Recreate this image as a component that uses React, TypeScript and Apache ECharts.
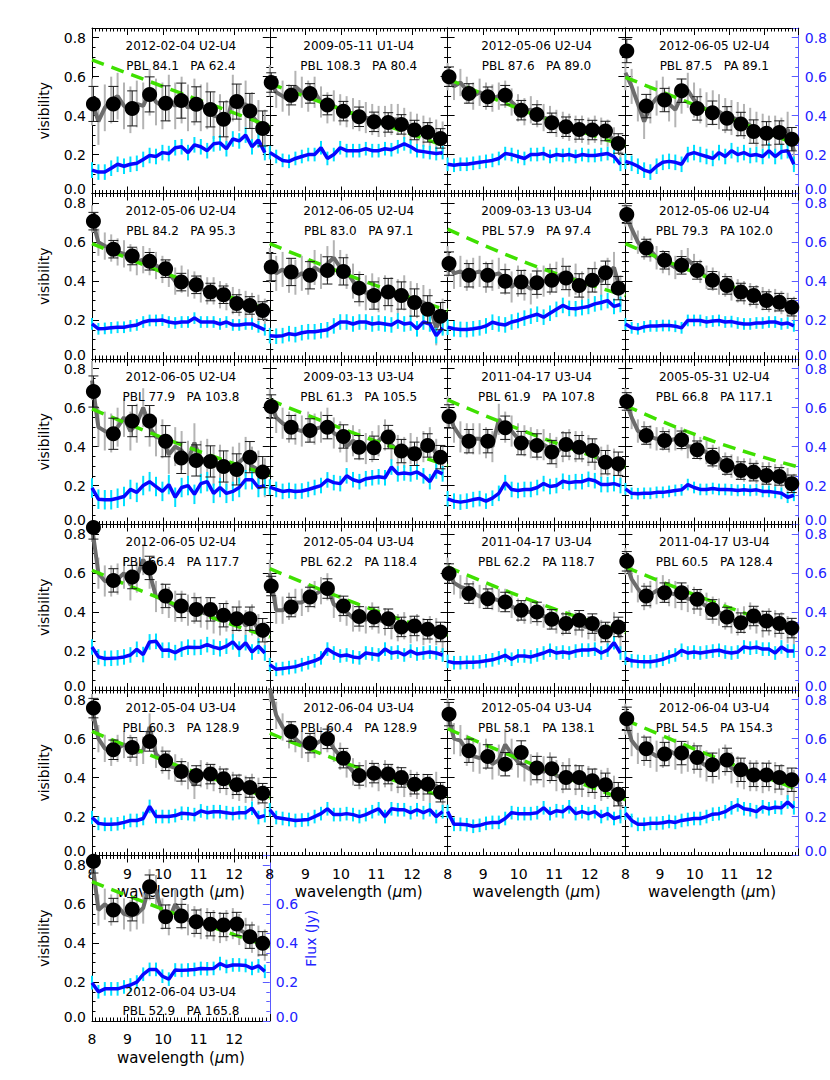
import React, { useEffect, useRef } from "react";
import * as echarts from "echarts";

// ---------------- data ----------------
const WAVE = [8.0, 8.18, 8.36, 8.54, 8.72, 8.9, 9.08, 9.26, 9.44, 9.62, 9.8, 9.98, 10.16, 10.34, 10.52, 10.7, 10.88, 11.06, 11.24, 11.42, 11.6, 11.78, 11.96, 12.14, 12.32, 12.5, 12.68, 12.86];
const BIN_WAVE = [8.04, 8.6, 9.13, 9.62, 10.07, 10.51, 10.93, 11.33, 11.7, 12.07, 12.44, 12.8];
const MODEL_WAVE = [8, 10.5, 13];

const DATES = ["2012-02-04", "2009-05-11", "2012-05-06", "2012-06-05", "2012-05-06", "2012-06-05", "2009-03-13", "2012-05-06", "2012-06-05", "2009-03-13", "2011-04-17", "2005-05-31", "2012-06-05", "2012-05-04", "2011-04-17", "2011-04-17", "2012-05-04", "2012-06-04", "2012-05-04", "2012-06-04", "2012-06-04"];
const BASELINES = ["U2-U4", "U1-U4", "U2-U4", "U2-U4", "U2-U4", "U2-U4", "U3-U4", "U2-U4", "U2-U4", "U3-U4", "U3-U4", "U2-U4", "U2-U4", "U3-U4", "U3-U4", "U3-U4", "U3-U4", "U3-U4", "U3-U4", "U3-U4", "U3-U4"];
const PBL = [84.1, 108.3, 87.6, 87.5, 84.2, 83.0, 57.9, 79.3, 77.9, 61.3, 61.9, 66.8, 66.4, 62.2, 62.2, 60.5, 60.3, 60.4, 58.1, 54.5, 52.9];
const PA = [62.4, 80.4, 89.0, 89.1, 95.3, 97.1, 97.4, 102.0, 103.8, 105.5, 107.8, 117.1, 117.7, 118.4, 118.7, 128.4, 128.9, 128.9, 138.1, 154.3, 165.8];

const VIS_SPEC = [
  [0.47, 0.37, 0.44, 0.48, 0.5, 0.45, 0.43, 0.46, 0.45, 0.52, 0.47, 0.45, 0.49, 0.45, 0.48, 0.44, 0.47, 0.44, 0.45, 0.4, 0.39, 0.36, 0.49, 0.44, 0.46, 0.4, 0.36, 0.31],
  [0.58, 0.52, 0.5, 0.48, 0.55, 0.52, 0.5, 0.52, 0.47, 0.44, 0.45, 0.43, 0.42, 0.41, 0.4, 0.39, 0.38, 0.37, 0.37, 0.38, 0.38, 0.36, 0.34, 0.33, 0.32, 0.31, 0.3, 0.29],
  [0.6, 0.55, 0.57, 0.53, 0.5, 0.52, 0.5, 0.49, 0.5, 0.51, 0.47, 0.44, 0.42, 0.43, 0.41, 0.39, 0.38, 0.36, 0.35, 0.34, 0.33, 0.33, 0.32, 0.33, 0.32, 0.31, 0.27, 0.22],
  [0.62, 0.55, 0.46, 0.37, 0.45, 0.49, 0.51, 0.46, 0.43, 0.5, 0.53, 0.48, 0.45, 0.43, 0.44, 0.42, 0.4, 0.39, 0.38, 0.37, 0.35, 0.33, 0.32, 0.31, 0.31, 0.3, 0.33, 0.22],
  [0.72, 0.6, 0.58, 0.57, 0.55, 0.54, 0.52, 0.5, 0.51, 0.5, 0.48, 0.46, 0.44, 0.4, 0.41, 0.39, 0.38, 0.36, 0.35, 0.35, 0.33, 0.32, 0.3, 0.29, 0.28, 0.27, 0.26, 0.24],
  [0.48, 0.44, 0.46, 0.43, 0.42, 0.44, 0.42, 0.47, 0.45, 0.49, 0.52, 0.47, 0.45, 0.4, 0.36, 0.34, 0.35, 0.33, 0.34, 0.33, 0.32, 0.34, 0.31, 0.3, 0.29, 0.27, 0.16, 0.22],
  [0.5, 0.44, 0.45, 0.43, 0.44, 0.45, 0.42, 0.43, 0.44, 0.41, 0.37, 0.4, 0.38, 0.36, 0.39, 0.4, 0.41, 0.42, 0.44, 0.4, 0.41, 0.37, 0.39, 0.42, 0.4, 0.44, 0.47, 0.35],
  [0.74, 0.67, 0.6, 0.57, 0.56, 0.52, 0.5, 0.49, 0.47, 0.5, 0.51, 0.48, 0.45, 0.42, 0.41, 0.39, 0.38, 0.36, 0.35, 0.34, 0.33, 0.32, 0.31, 0.3, 0.3, 0.29, 0.28, 0.26],
  [0.74, 0.5, 0.48, 0.47, 0.5, 0.55, 0.48, 0.52, 0.6, 0.5, 0.45, 0.44, 0.36, 0.4, 0.38, 0.33, 0.42, 0.33, 0.34, 0.3, 0.31, 0.28, 0.3, 0.32, 0.35, 0.3, 0.28, 0.24],
  [0.62, 0.55, 0.52, 0.5, 0.49, 0.48, 0.5, 0.49, 0.5, 0.52, 0.47, 0.45, 0.4, 0.43, 0.41, 0.39, 0.4, 0.43, 0.46, 0.41, 0.38, 0.37, 0.39, 0.37, 0.4, 0.42, 0.36, 0.32],
  [0.58, 0.5, 0.45, 0.44, 0.44, 0.44, 0.42, 0.4, 0.54, 0.5, 0.48, 0.44, 0.43, 0.42, 0.41, 0.41, 0.39, 0.37, 0.4, 0.41, 0.4, 0.4, 0.38, 0.36, 0.32, 0.33, 0.31, 0.27],
  [0.64, 0.55, 0.48, 0.47, 0.45, 0.44, 0.44, 0.43, 0.44, 0.44, 0.4, 0.4, 0.39, 0.37, 0.35, 0.34, 0.31, 0.3, 0.29, 0.28, 0.28, 0.27, 0.26, 0.26, 0.25, 0.25, 0.23, 0.2],
  [0.84, 0.6, 0.56, 0.56, 0.57, 0.6, 0.54, 0.58, 0.67, 0.6, 0.48, 0.47, 0.45, 0.43, 0.43, 0.41, 0.42, 0.4, 0.39, 0.37, 0.36, 0.38, 0.35, 0.38, 0.33, 0.36, 0.31, 0.27],
  [0.6, 0.41, 0.41, 0.43, 0.45, 0.45, 0.47, 0.49, 0.51, 0.53, 0.44, 0.42, 0.4, 0.37, 0.37, 0.36, 0.38, 0.36, 0.35, 0.33, 0.32, 0.33, 0.31, 0.32, 0.3, 0.31, 0.3, 0.26],
  [0.62, 0.55, 0.53, 0.52, 0.5, 0.48, 0.48, 0.47, 0.46, 0.46, 0.43, 0.41, 0.4, 0.4, 0.39, 0.38, 0.37, 0.35, 0.34, 0.35, 0.34, 0.33, 0.32, 0.31, 0.3, 0.29, 0.34, 0.27],
  [0.66, 0.57, 0.52, 0.48, 0.49, 0.51, 0.52, 0.5, 0.49, 0.48, 0.47, 0.46, 0.45, 0.43, 0.41, 0.4, 0.38, 0.36, 0.35, 0.36, 0.38, 0.36, 0.34, 0.35, 0.34, 0.33, 0.31, 0.28],
  [0.76, 0.6, 0.55, 0.53, 0.55, 0.57, 0.55, 0.53, 0.54, 0.66, 0.52, 0.49, 0.46, 0.45, 0.43, 0.41, 0.36, 0.42, 0.41, 0.4, 0.39, 0.38, 0.36, 0.35, 0.34, 0.35, 0.33, 0.29],
  [0.86, 0.72, 0.66, 0.62, 0.6, 0.57, 0.55, 0.57, 0.59, 0.6, 0.55, 0.51, 0.47, 0.43, 0.41, 0.42, 0.42, 0.4, 0.42, 0.4, 0.39, 0.37, 0.37, 0.36, 0.35, 0.34, 0.36, 0.3],
  [0.73, 0.6, 0.59, 0.54, 0.51, 0.5, 0.52, 0.47, 0.49, 0.57, 0.52, 0.48, 0.46, 0.44, 0.45, 0.43, 0.45, 0.41, 0.4, 0.42, 0.39, 0.38, 0.38, 0.37, 0.36, 0.37, 0.33, 0.26],
  [0.7, 0.59, 0.55, 0.54, 0.53, 0.51, 0.53, 0.54, 0.52, 0.5, 0.51, 0.5, 0.48, 0.46, 0.45, 0.47, 0.49, 0.45, 0.43, 0.42, 0.41, 0.41, 0.4, 0.41, 0.4, 0.39, 0.37, 0.36],
  [0.83, 0.57, 0.6, 0.57, 0.59, 0.55, 0.54, 0.55, 0.58, 0.7, 0.67, 0.55, 0.52, 0.6, 0.55, 0.52, 0.51, 0.5, 0.5, 0.49, 0.48, 0.49, 0.5, 0.47, 0.45, 0.43, 0.41, 0.39],
];

const VIS_BIN = [
  [0.46, 0.46, 0.437, 0.509, 0.463, 0.477, 0.458, 0.432, 0.381, 0.472, 0.424, 0.334],
  [0.57, 0.505, 0.514, 0.454, 0.423, 0.394, 0.368, 0.365, 0.355, 0.326, 0.314, 0.283],
  [0.6, 0.514, 0.497, 0.505, 0.428, 0.406, 0.363, 0.343, 0.329, 0.326, 0.321, 0.257],
  [0.732, 0.449, 0.48, 0.528, 0.437, 0.415, 0.386, 0.357, 0.318, 0.309, 0.313, 0.279],
  [0.708, 0.564, 0.529, 0.502, 0.464, 0.395, 0.381, 0.344, 0.33, 0.285, 0.275, 0.249],
  [0.472, 0.447, 0.43, 0.455, 0.45, 0.364, 0.326, 0.344, 0.326, 0.29, 0.255, 0.22],
  [0.49, 0.43, 0.43, 0.399, 0.395, 0.392, 0.404, 0.416, 0.378, 0.404, 0.443, 0.364],
  [0.742, 0.57, 0.507, 0.481, 0.455, 0.404, 0.378, 0.344, 0.326, 0.3, 0.292, 0.266],
  [0.683, 0.466, 0.531, 0.531, 0.428, 0.342, 0.329, 0.324, 0.298, 0.283, 0.346, 0.269],
  [0.606, 0.5, 0.483, 0.5, 0.452, 0.397, 0.394, 0.449, 0.377, 0.363, 0.406, 0.346],
  [0.555, 0.428, 0.428, 0.497, 0.418, 0.406, 0.372, 0.411, 0.397, 0.38, 0.32, 0.312],
  [0.632, 0.457, 0.432, 0.435, 0.384, 0.346, 0.303, 0.277, 0.269, 0.252, 0.247, 0.209],
  [0.835, 0.563, 0.58, 0.627, 0.483, 0.432, 0.414, 0.414, 0.384, 0.366, 0.366, 0.307],
  [0.534, 0.426, 0.478, 0.521, 0.432, 0.378, 0.375, 0.366, 0.324, 0.329, 0.312, 0.298],
  [0.598, 0.495, 0.469, 0.452, 0.409, 0.401, 0.363, 0.341, 0.358, 0.341, 0.298, 0.324],
  [0.661, 0.483, 0.5, 0.5, 0.466, 0.414, 0.375, 0.346, 0.38, 0.354, 0.341, 0.318],
  [0.757, 0.543, 0.555, 0.586, 0.486, 0.432, 0.411, 0.418, 0.394, 0.363, 0.349, 0.32],
  [null, 0.637, 0.577, 0.599, 0.5, 0.411, 0.423, 0.418, 0.401, 0.366, 0.366, 0.325],
  [0.726, 0.538, 0.509, 0.469, 0.529, 0.449, 0.445, 0.401, 0.401, 0.384, 0.363, 0.315],
  [0.702, 0.548, 0.521, 0.526, 0.503, 0.466, 0.491, 0.44, 0.414, 0.414, 0.401, 0.389],
  [0.82, 0.57, 0.574, 0.69, 0.536, 0.539, 0.51, 0.497, 0.493, 0.498, 0.433, 0.399],
];

const MODEL = [
  [0.686, 0.515, 0.345], [0.565, 0.4, 0.24], [0.59, 0.4, 0.245], [0.597, 0.42, 0.25],
  [0.593, 0.41, 0.249], [0.593, 0.41, 0.249], [0.667, 0.475, 0.326], [0.593, 0.41, 0.258],
  [0.594, 0.41, 0.252], [0.64, 0.46, 0.303], [0.64, 0.455, 0.295], [0.611, 0.43, 0.295],
  [0.615, 0.43, 0.272], [0.623, 0.44, 0.281], [0.632, 0.45, 0.295], [0.632, 0.455, 0.301],
  [0.637, 0.455, 0.295], [0.628, 0.45, 0.295], [0.651, 0.46, 0.286], [0.697, 0.51, 0.337],
  [0.716, 0.54, 0.381],
];

const FLUX = [
  [0.12, 0.11, 0.11, 0.13, 0.15, 0.14, 0.15, 0.155, 0.175, 0.195, 0.19, 0.21, 0.205, 0.235, 0.24, 0.21, 0.25, 0.24, 0.22, 0.255, 0.26, 0.23, 0.28, 0.27, 0.3, 0.24, 0.275, 0.21],
  [0.21, 0.19, 0.17, 0.165, 0.18, 0.19, 0.2, 0.2, 0.235, 0.18, 0.2, 0.235, 0.22, 0.22, 0.22, 0.23, 0.22, 0.22, 0.23, 0.225, 0.24, 0.255, 0.24, 0.22, 0.215, 0.21, 0.205, 0.21],
  [0.15, 0.145, 0.15, 0.15, 0.155, 0.16, 0.165, 0.17, 0.18, 0.205, 0.2, 0.19, 0.18, 0.2, 0.2, 0.205, 0.19, 0.2, 0.195, 0.2, 0.19, 0.2, 0.195, 0.195, 0.2, 0.205, 0.19, 0.15],
  [0.165, 0.155, 0.14, 0.12, 0.11, 0.14, 0.16, 0.165, 0.16, 0.15, 0.2, 0.21, 0.2, 0.19, 0.18, 0.21, 0.19, 0.22, 0.2, 0.21, 0.195, 0.2, 0.19, 0.22, 0.19, 0.215, 0.22, 0.15],
  [0.18, 0.155, 0.157, 0.16, 0.163, 0.163, 0.17, 0.175, 0.19, 0.198, 0.198, 0.2, 0.19, 0.185, 0.19, 0.19, 0.21, 0.19, 0.19, 0.19, 0.18, 0.19, 0.175, 0.175, 0.18, 0.18, 0.165, 0.15],
  [0.12, 0.117, 0.12, 0.13, 0.125, 0.135, 0.14, 0.14, 0.145, 0.15, 0.17, 0.19, 0.19, 0.18, 0.19, 0.19, 0.18, 0.185, 0.18, 0.175, 0.195, 0.18, 0.185, 0.155, 0.19, 0.18, 0.12, 0.16],
  [0.163, 0.155, 0.152, 0.151, 0.155, 0.16, 0.17, 0.189, 0.18, 0.175, 0.19, 0.198, 0.21, 0.22, 0.23, 0.215, 0.235, 0.255, 0.275, 0.26, 0.258, 0.264, 0.27, 0.283, 0.29, 0.3, 0.27, 0.28],
  [0.18, 0.16, 0.155, 0.165, 0.17, 0.17, 0.172, 0.172, 0.168, 0.16, 0.198, 0.198, 0.198, 0.19, 0.195, 0.198, 0.19, 0.192, 0.185, 0.18, 0.18, 0.185, 0.185, 0.19, 0.19, 0.18, 0.185, 0.17],
  [0.188, 0.13, 0.127, 0.127, 0.135, 0.144, 0.18, 0.165, 0.2, 0.22, 0.195, 0.17, 0.205, 0.14, 0.19, 0.2, 0.155, 0.21, 0.22, 0.16, 0.19, 0.16, 0.17, 0.19, 0.23, 0.23, 0.19, 0.2],
  [0.192, 0.18, 0.17, 0.175, 0.17, 0.172, 0.18, 0.19, 0.2, 0.229, 0.215, 0.21, 0.25, 0.23, 0.22, 0.235, 0.24, 0.245, 0.24, 0.295, 0.26, 0.265, 0.26, 0.27, 0.25, 0.22, 0.275, 0.26],
  [0.132, 0.12, 0.115, 0.12, 0.128, 0.133, 0.12, 0.135, 0.16, 0.215, 0.18, 0.175, 0.18, 0.18, 0.19, 0.21, 0.195, 0.2, 0.222, 0.215, 0.22, 0.22, 0.232, 0.225, 0.205, 0.205, 0.21, 0.2],
  [0.183, 0.16, 0.158, 0.16, 0.16, 0.165, 0.165, 0.17, 0.175, 0.178, 0.205, 0.19, 0.18, 0.18, 0.185, 0.18, 0.18, 0.178, 0.175, 0.178, 0.175, 0.178, 0.17, 0.17, 0.165, 0.16, 0.14, 0.15],
  [0.221, 0.17, 0.162, 0.163, 0.165, 0.17, 0.18, 0.209, 0.182, 0.247, 0.25, 0.204, 0.205, 0.192, 0.21, 0.22, 0.218, 0.22, 0.233, 0.22, 0.212, 0.225, 0.247, 0.21, 0.243, 0.195, 0.225, 0.19],
  [0.13, 0.106, 0.11, 0.115, 0.12, 0.13, 0.14, 0.15, 0.165, 0.21, 0.19, 0.175, 0.18, 0.17, 0.165, 0.19, 0.185, 0.18, 0.21, 0.19, 0.195, 0.18, 0.2, 0.185, 0.19, 0.195, 0.19, 0.18],
  [0.147, 0.14, 0.14, 0.142, 0.142, 0.145, 0.15, 0.155, 0.165, 0.178, 0.158, 0.175, 0.175, 0.17, 0.18, 0.19, 0.204, 0.19, 0.195, 0.19, 0.2, 0.205, 0.205, 0.21, 0.19, 0.205, 0.243, 0.19],
  [0.164, 0.15, 0.147, 0.145, 0.145, 0.15, 0.158, 0.17, 0.18, 0.204, 0.19, 0.195, 0.19, 0.195, 0.2, 0.204, 0.195, 0.19, 0.195, 0.221, 0.215, 0.22, 0.21, 0.21, 0.19, 0.221, 0.2, 0.2],
  [0.195, 0.165, 0.16, 0.16, 0.163, 0.17, 0.18, 0.18, 0.19, 0.252, 0.2, 0.2, 0.2, 0.205, 0.217, 0.215, 0.21, 0.229, 0.22, 0.225, 0.225, 0.22, 0.215, 0.22, 0.22, 0.243, 0.195, 0.205],
  [0.235, 0.195, 0.19, 0.185, 0.18, 0.182, 0.185, 0.2, 0.215, 0.24, 0.21, 0.21, 0.215, 0.21, 0.2, 0.21, 0.225, 0.24, 0.2, 0.24, 0.235, 0.235, 0.22, 0.235, 0.22, 0.235, 0.2, 0.225],
  [0.226, 0.16, 0.16, 0.158, 0.15, 0.155, 0.165, 0.17, 0.17, 0.19, 0.22, 0.215, 0.215, 0.215, 0.22, 0.245, 0.215, 0.23, 0.225, 0.25, 0.215, 0.225, 0.215, 0.225, 0.2, 0.215, 0.19, 0.2],
  [0.217, 0.18, 0.16, 0.16, 0.165, 0.165, 0.168, 0.175, 0.17, 0.18, 0.185, 0.19, 0.19, 0.2, 0.212, 0.215, 0.225, 0.245, 0.26, 0.24, 0.235, 0.225, 0.25, 0.24, 0.248, 0.245, 0.275, 0.245],
  [0.197, 0.15, 0.165, 0.165, 0.165, 0.175, 0.185, 0.2, 0.24, 0.265, 0.265, 0.23, 0.215, 0.262, 0.26, 0.262, 0.265, 0.27, 0.268, 0.27, 0.295, 0.28, 0.288, 0.288, 0.285, 0.27, 0.283, 0.255],
];

const BIN_ERR = [0.09, 0.05, 0.05, 0.06, 0.045, 0.07, 0.06, 0.045, 0.08, 0.06, 0.06, 0.045, 0.06, 0.05, 0.05, 0.05, 0.05, 0.05, 0.06, 0.06, 0.06];
const SPEC_ERR = [0.12, 0.08, 0.07, 0.09, 0.07, 0.09, 0.08, 0.06, 0.1, 0.08, 0.08, 0.06, 0.08, 0.07, 0.06, 0.07, 0.07, 0.07, 0.08, 0.08, 0.08];
const FLUX_ERR = [0.04, 0.035, 0.035, 0.04, 0.03, 0.04, 0.04, 0.03, 0.05, 0.04, 0.04, 0.03, 0.04, 0.035, 0.035, 0.035, 0.035, 0.035, 0.035, 0.035, 0.035];

const X_TICK_VALUES = [8, 9, 10, 11, 12];
const X_TICK_LABELS = ["8", "9", "10", "11", "12"];
const Y_TICK_VALUES = [0, 0.2, 0.4, 0.6, 0.8];
const Y_TICK_LABELS = ["0.0", "0.2", "0.4", "0.6", "0.8"];

// ---------------- layout / style ----------------
const COL_LEFT = [92, 269.8, 447.6, 625.4];
const PANEL_W = 177.8;
const ROW_TOP = [28, 193.5, 359, 524.5, 690, 855.5];
const PANEL_H = 165.5;
const X_MIN = 8, X_MAX = 13, Y_MIN = 0, Y_MAX = 0.85;
const FONT = '"DejaVu Sans", Verdana, sans-serif';
const AX_BLUE = "#5a5aff";
const LBL_BLUE = "#2222ff";

function xFmt(v: number) {
  const i = X_TICK_VALUES.findIndex((t) => Math.abs(t - v) < 1e-6);
  return i >= 0 ? X_TICK_LABELS[i] : "";
}
function yFmt(hideTop: boolean) {
  return (v: number) => {
    const i = Y_TICK_VALUES.findIndex((t) => Math.abs(t - v) < 1e-6);
    if (i < 0) return "";
    if (hideTop && i === Y_TICK_VALUES.length - 1) return "";
    if (i === 0) return `{lo|${Y_TICK_LABELS[i]}}`;
    return Y_TICK_LABELS[i];
  };
}

function errRender(color: string, width: number, cap: number) {
  return (params: any, api: any) => {
    const x = api.value(0), y = api.value(1), e = api.value(2);
    const hi = api.coord([x, y + e]);
    const lo = api.coord([x, y - e]);
    const cs = params.coordSys;
    const top = cs.y, bot = cs.y + cs.height;
    const y1 = Math.max(hi[1], top), y2 = Math.min(lo[1], bot);
    const children: any[] = [];
    if (y2 > y1) {
      children.push({ type: "line", shape: { x1: hi[0], y1, x2: hi[0], y2 }, style: { stroke: color, lineWidth: width } });
      if (cap > 0) {
        if (hi[1] >= top) children.push({ type: "line", shape: { x1: hi[0] - cap, y1: hi[1], x2: hi[0] + cap, y2: hi[1] }, style: { stroke: color, lineWidth: width } });
        if (lo[1] <= bot) children.push({ type: "line", shape: { x1: lo[0] - cap, y1: lo[1], x2: lo[0] + cap, y2: lo[1] }, style: { stroke: color, lineWidth: width } });
      }
    }
    return { type: "group", children };
  };
}

function axisBase(color: string, minorSplit: number) {
  return {
    axisLine: { show: true, onZero: false, lineStyle: { color, width: 1 } },
    axisTick: { show: true, inside: true, length: 7, lineStyle: { color, width: 1 } },
    minorTick: { show: true, splitNumber: minorSplit, length: 3.5, lineStyle: { color, width: 1 } },
    splitLine: { show: false },
    minorSplitLine: { show: false },
    silent: true,
  };
}

function buildOption() {
  const n = VIS_SPEC.length;
  const grid: any[] = [], xAxis: any[] = [], yAxis: any[] = [], series: any[] = [], graphic: any[] = [];
  for (let p = 0; p < n; p++) {
    const row = Math.floor(p / 4), col = p % 4;
    const left = COL_LEFT[col], top = ROW_TOP[row];
    grid.push({ left, top, width: PANEL_W, height: PANEL_H, containLabel: false });
    const showX = p >= 16;
    const showLeft = col === 0;
    const blueRight = col === 3 || p === 20;

    xAxis.push({
      type: "value", gridIndex: p, position: "bottom", min: X_MIN, max: X_MAX, interval: 1,
      ...axisBase("#000", 10),
      axisLabel: { show: showX, margin: 11, color: "#000", fontSize: 14, fontFamily: FONT, showMaxLabel: false, formatter: xFmt },
      name: showX ? "wavelength ({mu|μ}m)" : "",
      nameLocation: "middle", nameGap: 29,
      nameTextStyle: { color: "#000", fontSize: 15, fontFamily: FONT, rich: { mu: { fontSize: 15, fontFamily: FONT, fontStyle: "italic", color: "#000" } } },
    });
    xAxis.push({
      type: "value", gridIndex: p, position: "top", min: X_MIN, max: X_MAX, interval: 1,
      ...axisBase("#000", 10),
      axisLabel: { show: false },
    });
    yAxis.push({
      type: "value", gridIndex: p, position: "left", min: Y_MIN, max: Y_MAX, interval: 0.2,
      ...axisBase("#000", 4),
      axisLabel: {
        show: showLeft, margin: 6, color: "#000", fontSize: 14, fontFamily: FONT, showMaxLabel: false, formatter: yFmt(false),
        rich: { lo: { padding: [0, 0, 9, 0], color: "#000", fontSize: 14, fontFamily: FONT } },
      },
      name: showLeft ? "visibility" : "", nameLocation: "middle", nameGap: 41, nameRotate: 90,
      nameTextStyle: { color: "#000", fontSize: 14, fontFamily: FONT },
    });
    const rc = blueRight ? AX_BLUE : "#000";
    yAxis.push({
      type: "value", gridIndex: p, position: "right", min: Y_MIN, max: Y_MAX, interval: 0.2,
      ...axisBase(rc, 4),
      axisLabel: {
        show: blueRight, margin: 6, color: LBL_BLUE, fontSize: 14, fontFamily: FONT, showMaxLabel: false, formatter: yFmt(p === 20),
        rich: { lo: { padding: [0, 0, 9, 0], color: LBL_BLUE, fontSize: 14, fontFamily: FONT } },
      },
      name: p === 20 ? "Flux (Jy)" : "", nameLocation: "middle", nameGap: 34, nameRotate: 90,
      nameTextStyle: { color: LBL_BLUE, fontSize: 14, fontFamily: FONT },
    });

    const xi = 2 * p, yi = 2 * p;
    series.push({
      type: "custom", xAxisIndex: xi, yAxisIndex: yi, z: 1, silent: true,
      renderItem: errRender("#b4b4b4", 2, 0),
      encode: { x: 0, y: 1 },
      data: WAVE.map((w, i) => [w, VIS_SPEC[p][i], SPEC_ERR[p]]),
    });
    series.push({
      type: "line", xAxisIndex: xi, yAxisIndex: yi, z: 2, silent: true, symbol: "none", showSymbol: false,
      lineStyle: { color: "#6c6c6c", width: 4, opacity: 1 },
      data: WAVE.map((w, i) => [w, VIS_SPEC[p][i]]),
    });
    series.push({
      type: "custom", xAxisIndex: xi, yAxisIndex: yi, z: 3, silent: true,
      renderItem: errRender("#00e0ff", 2, 0),
      encode: { x: 0, y: 1 },
      data: WAVE.map((w, i) => [w, FLUX[p][i], FLUX_ERR[p]]),
    });
    series.push({
      type: "line", xAxisIndex: xi, yAxisIndex: yi, z: 4, silent: true, symbol: "none", showSymbol: false,
      lineStyle: { color: "#0808ff", width: 3.5, opacity: 1 },
      data: WAVE.map((w, i) => [w, FLUX[p][i]]),
    });
    series.push({
      type: "line", xAxisIndex: xi, yAxisIndex: yi, z: 5, silent: true, symbol: "none", showSymbol: false, smooth: true,
      lineStyle: { color: "#3fe000", width: 3.5, type: [13, 8], opacity: 1 },
      data: MODEL_WAVE.map((w, i) => [w, MODEL[p][i]]),
    });
    const binData = BIN_WAVE.map((w, i) => [w, VIS_BIN[p][i]]).filter((d) => d[1] !== null);
    series.push({
      type: "custom", xAxisIndex: xi, yAxisIndex: yi, z: 6, silent: true,
      renderItem: errRender("#1a1a1a", 1, 5),
      encode: { x: 0, y: 1 },
      data: binData.map((d) => [d[0], d[1], BIN_ERR[p]]),
    });
    series.push({
      type: "scatter", xAxisIndex: xi, yAxisIndex: yi, z: 7, silent: true,
      symbol: "circle", symbolSize: 15, itemStyle: { color: "#000", opacity: 1 },
      data: binData,
    });

    const cx = left + PANEL_W / 2;
    const ty1 = p === 20 ? top + PANEL_H - 29 : top + 17.5;
    const ty2 = p === 20 ? top + PANEL_H - 10.5 : top + 37.5;
    graphic.push({
      type: "text", x: cx, y: ty1, silent: true, z: 100,
      style: { text: `${DATES[p]} ${BASELINES[p]}`, fill: "#000", font: `12px ${FONT}`, textAlign: "center", textVerticalAlign: "middle" },
    });
    graphic.push({
      type: "text", x: cx, y: ty2, silent: true, z: 100,
      style: { text: `PBL ${PBL[p].toFixed(1)}\u00a0\u00a0\u00a0PA ${PA[p].toFixed(1)}`, fill: "#000", font: `12px ${FONT}`, textAlign: "center", textVerticalAlign: "middle" },
    });
  }
  return { animation: false, backgroundColor: "#fff", grid, xAxis, yAxis, series, graphic };
}

export default function App() {
  const ref = useRef<HTMLDivElement>(null);
  useEffect(() => {
    if (!ref.current) return;
    const chart = echarts.init(ref.current, null, { renderer: "svg" });
    chart.setOption(buildOption() as any);
    return () => chart.dispose();
  }, []);
  return <div ref={ref} style={{ position: "absolute", left: 0, top: 0, width: 830, height: 1080, background: "#fff" }} />;
}
